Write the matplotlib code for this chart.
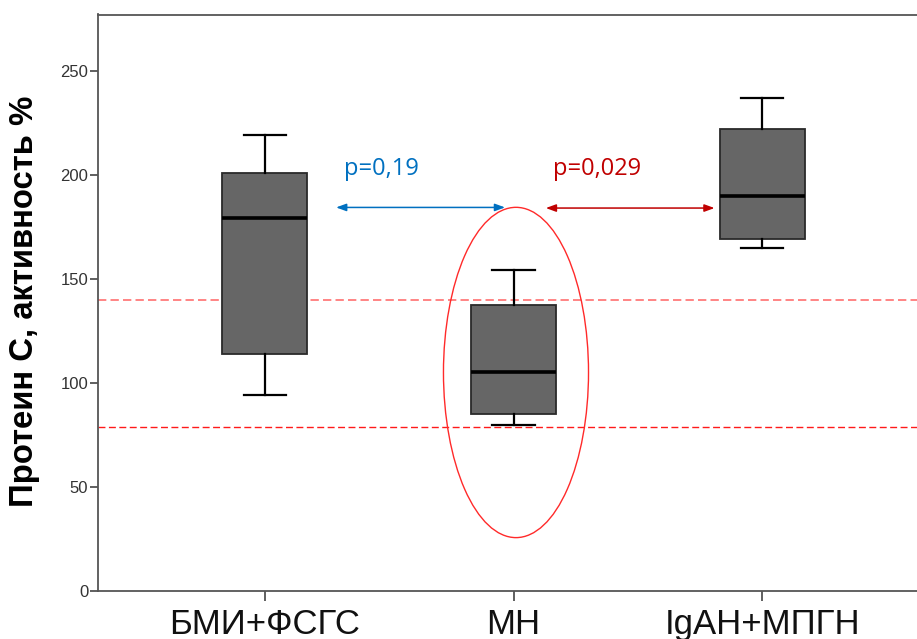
import matplotlib
matplotlib.use("Agg")
import matplotlib.pyplot as plt
from matplotlib.patches import Ellipse

# Groups and box statistics (protein C activity, %)
groups = ["БМИ+ФСГС", "МН", "IgAН+МПГН"]
whisker_low = [94, 80, 165]
q1 = [114, 85, 169]
median = [179, 105, 190]
q3 = [201, 137.5, 222]
whisker_high = [219, 154, 237]

# Reference range limits
ref_upper = 140
ref_lower = 79

# Pairwise comparisons
p_labels = ["p=0,19", "p=0,029"]
p_colors = ["#0070C0", "#C00000"]

fig = plt.figure(figsize=(9.17, 6.39), dpi=100)
ax = fig.add_axes([98 / 917, 48 / 639, 831 / 917, 576.5 / 639])

stats = []
for i, g in enumerate(groups):
    stats.append(dict(label=g, whislo=whisker_low[i], q1=q1[i], med=median[i],
                      q3=q3[i], whishi=whisker_high[i], fliers=[]))

positions = list(range(len(groups)))
ax.bxp(stats, positions=positions, widths=0.34, patch_artist=True, showfliers=False,
       boxprops=dict(facecolor="#666666", edgecolor="#2a2a2a", linewidth=1.3),
       medianprops=dict(color="black", linewidth=2.6),
       whiskerprops=dict(color="black", linewidth=1.6),
       capprops=dict(color="black", linewidth=1.6),
       capwidths=0.17, zorder=3)

# Reference range
ax.axhline(ref_upper, color="#ff7070", linestyle=(0, (5, 2.5)), linewidth=1.2, zorder=2)
ax.axhline(ref_lower, color="#ff1a1a", linestyle=(0, (5, 2.5)), linewidth=1.0, zorder=2)

# Highlight of the МН group
ax.add_patch(Ellipse((1.01, 105), width=0.583, height=158.7, fill=False,
                     edgecolor="#ff2a2a", linewidth=1.0, zorder=4))

# Comparison arrows with p-values
arrow_spans = [(0.287, 0.966, 184.3), (1.130, 1.808, 184.0)]
text_x = [0.32, 1.16]
for (x0, x1, y), lab, col, tx in zip(arrow_spans, p_labels, p_colors, text_x):
    ax.annotate("", xy=(x1, y), xytext=(x0, y),
                arrowprops=dict(arrowstyle="<|-|>,head_length=0.6,head_width=0.22",
                                color=col, linewidth=1.1, shrinkA=0, shrinkB=0))
    ax.text(tx, 203.0, lab, color=col, fontsize=17, family="Open Sans",
            ha="left", va="center")

ax.set_xlim(-0.67, 2.67)
ax.set_ylim(0, 277)
ax.set_yticks([0, 50, 100, 150, 200, 250])
ax.set_xticks(positions)
ax.set_xticklabels(groups, fontsize=25, family="Liberation Sans", color="#111111")
ax.tick_params(axis="y", labelsize=12, labelcolor="#333333", length=6, width=1.2,
               color="#444444", pad=1)
ax.tick_params(axis="x", length=7, width=1.2, color="#444444", pad=5)
for lab in ax.get_yticklabels():
    lab.set_family("Liberation Sans")

for side in ["left", "bottom", "top"]:
    ax.spines[side].set_color("#555555")
    ax.spines[side].set_linewidth(1.3)
ax.spines["right"].set_visible(False)

fig.text(25 / 917, 1 - 301 / 639, "Протеин С, активность %", rotation=90,
         fontsize=23.7, fontweight="bold", family="Liberation Sans",
         ha="center", va="center", color="black")

fig.savefig("out.png", dpi=100)
